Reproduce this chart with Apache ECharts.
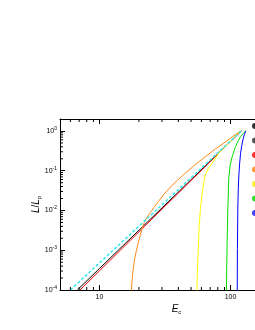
<!DOCTYPE html>
<html><head><meta charset="utf-8">
<script src="https://cdn.jsdelivr.net/npm/echarts@6/dist/echarts.min.js"></script>
<style>html,body{margin:0;padding:0;background:#fff}#c{width:255px;height:330px}</style>
</head><body><div id="c"></div>
<script>
// ---- data ----
const seriesNames = ['Analytic', 'Fit', 'Simulation', 'E0 = 17.5', 'E0 = 55', 'E0 = 93', 'E0 = 113'];
const blackE = [6.78, 10, 21.4, 50, 121];
const blackL = [1e-4, 3.47e-4, 3.94e-3, 0.0593, 1];
const redE = [7.1, 10, 21.4, 50, 121];
const redL = [1e-4, 3.04e-4, 3.6e-3, 0.0566, 1];
const cyanE = [6.0, 10, 21.4, 50, 121];
const cyanL = [1e-4, 4.79e-4, 4.93e-3, 0.0665, 1];
const orangeE = [17.44, 17.53, 17.75, 18.04, 18.55, 19.16, 20.31, 21.54, 22.8, 24.25, 26.0, 28.09, 31.0, 34.56, 39.5, 45.07, 54.0, 64.22, 76.5, 91.5, 105.0, 119.4];
const orangeL = [5.6e-5, 1e-4, 1.8e-4, 3.18e-4, 5.9e-4, 1.01e-3, 2.19e-3, 4.32e-3, 6.3e-3, 8.5e-3, 0.0118, 0.0166, 0.0254, 0.0379, 0.058, 0.0863, 0.143, 0.225, 0.35, 0.528, 0.74, 1];
const yellowE = [55.25, 55.44, 55.8, 56.43, 57.0, 57.74, 59.0, 60.57, 62.3, 64.22, 68.0, 72.31, 81.28, 88.5, 97.0, 107.0, 119.4];
const yellowL = [5.6e-5, 1e-4, 2.4e-4, 6.38e-4, 1.6e-3, 4.32e-3, 0.0112, 0.0245, 0.047, 0.0782, 0.117, 0.154, 0.275, 0.37, 0.491, 0.69, 1];
const greenE = [93.0, 93.16, 93.6, 94.32, 95.5, 97.03, 99.5, 103.1, 109.3, 114.0, 119.4, 125.0, 130.5];
const greenL = [5.6e-5, 1e-4, 3.5e-4, 1.64e-3, 0.0116, 0.0658, 0.14, 0.225, 0.403, 0.55, 0.719, 0.87, 1];
const blueE = [112.4, 112.6, 113.0, 113.8, 114.7, 115.9, 117.5, 119.4, 121.8, 124.3, 127.3, 130.5];
const blueL = [5.6e-5, 1e-4, 1.1e-3, 0.0116, 0.036, 0.0782, 0.155, 0.275, 0.42, 0.594, 0.79, 1];
const xMinorTicks = [6, 7, 8, 9, 20, 30, 40, 50, 60, 70, 80, 90, 200];
const yMinorTicks = [2e-4,3e-4,4e-4,5e-4,6e-4,7e-4,8e-4,9e-4,2e-3,3e-3,4e-3,5e-3,6e-3,7e-3,8e-3,9e-3,
  0.02,0.03,0.04,0.05,0.06,0.07,0.08,0.09,0.2,0.3,0.4,0.5,0.6,0.7,0.8,0.9];
const xMin = 5, xMax = 300, yMin = 1e-4, yMax = 2;

const zip = (a, b) => a.map((v, i) => [v, b[i]]);
const font = 'Liberation Sans, Arial, sans-serif';
const chart = echarts.init(document.getElementById('c'), null, {renderer: 'canvas'});

function lineSeries(name, E, L, color, extra) {
  return Object.assign({
    name, type: 'line', data: zip(E, L), symbol: 'none', smooth: false,
    lineStyle: {color, width: 1}, itemStyle: {color}, clip: true, z: 3
  }, extra || {});
}

const supLabel = v => {
  const e = Math.round(Math.log10(v));
  if (Math.abs(Math.log10(v) - e) > 1e-6) return '';
  return '{b|10}{s|' + e + '}';
};

const option = {
  animation: false,
  grid: {left: 60, top: 119, width: 233, height: 171, show: false, outerBoundsMode: 'none', containLabel: false},
  legend: {
    orient: 'vertical', left: 252, top: 123, width: 100, height: 120, itemWidth: 6, itemHeight: 6, itemGap: 8.5,
    icon: 'circle', padding: 0, textStyle: {fontSize: 6, lineHeight: 6, fontFamily: font, color: '#000'},
    data: [
      {name: seriesNames[0], itemStyle: {color: '#333'}},
      {name: seriesNames[1], itemStyle: {color: '#555'}},
      {name: seriesNames[2], itemStyle: {color: '#ff3030'}},
      {name: seriesNames[3], itemStyle: {color: '#ff9a40'}},
      {name: seriesNames[4], itemStyle: {color: '#f5f030'}},
      {name: seriesNames[5], itemStyle: {color: '#30e030'}},
      {name: seriesNames[6], itemStyle: {color: '#4040ff'}}
    ]
  },
  xAxis: [{
    type: 'log', min: xMin, max: xMax, logBase: 10,
    axisLine: {lineStyle: {color: '#000', width: 1}},
    axisTick: {inside: true, length: 5, lineStyle: {color: '#000'}},
    splitLine: {show: false},
    axisLabel: {fontSize: 7, fontFamily: font, color: '#000', margin: 4, showMinLabel: false, showMaxLabel: false,
      formatter: v => { const e = Math.log10(v); return Math.abs(e - Math.round(e)) < 1e-6 ? String(Math.round(v)) : ''; }},
    name: '{i|E}{sub|c}', nameLocation: 'middle', nameGap: 13, nameMoveOverlap: false,
    nameTextStyle: {rich: {i: {fontSize: 10, fontStyle: 'italic', fontFamily: font, color: '#000'},
      sub: {fontSize: 6, fontFamily: font, color: '#000', padding: [6, 0, 0, 0]}}}
  }, {
    type: 'log', min: xMin, max: xMax, position: 'top',
    axisLine: {lineStyle: {color: '#000', width: 1}},
    axisTick: {inside: true, length: 5, lineStyle: {color: '#000'}},
    axisLabel: {show: false}, splitLine: {show: false}
  }],
  yAxis: [{
    type: 'log', min: yMin, max: yMax, logBase: 10,
    axisLine: {show: true, lineStyle: {color: '#000', width: 1}},
    axisTick: {show: true, inside: true, length: 5, lineStyle: {color: '#000'}},
    splitLine: {show: false},
    axisLabel: {fontFamily: font, color: '#000', margin: 3, formatter: supLabel, showMaxLabel: false,
      rich: {b: {fontSize: 7, fontFamily: font, color: '#000'},
             s: {fontSize: 5, fontFamily: font, color: '#000', padding: [0, 0, 5, 0]}}},
    name: '{i|L}{n|/}{i|L}{sub|p}', nameLocation: 'middle', nameGap: 18, nameRotate: 90, nameMoveOverlap: false,
    nameTextStyle: {rich: {i: {fontSize: 10, fontStyle: 'italic', fontFamily: font, color: '#000'},
      n: {fontSize: 10, fontFamily: font, color: '#000'},
      sub: {fontSize: 6, fontFamily: font, color: '#000', padding: [6, 0, 0, 0]}}}
  }],
  series: [
    lineSeries(seriesNames[0], blackE, blackL, '#000000'),
    lineSeries(seriesNames[2], redE, redL, '#ff0000'),
    lineSeries(seriesNames[1], cyanE, cyanL, '#30e8f0', {lineStyle: {color: '#30e8f0', width: 1.5, type: [3, 2]}, z: 4}),
    lineSeries(seriesNames[3], orangeE, orangeL, '#ff8a1a'),
    lineSeries(seriesNames[4], yellowE, yellowL, '#ffff00'),
    lineSeries(seriesNames[5], greenE, greenL, '#00e000'),
    lineSeries(seriesNames[6], blueE, blueL, '#0000ff'),
    {
      type: 'custom', name: 'xminor', data: xMinorTicks.map(v => [v]), clip: false, silent: true, z: 5,
      renderItem: (params, api) => {
        const v = api.value(0);
        const b = api.coord([v, yMin]), t = api.coord([v, yMax]);
        return {type: 'group', children: [
          {type: 'line', shape: {x1: b[0], y1: b[1], x2: b[0], y2: b[1] - 3}, style: {stroke: '#000', lineWidth: 1}},
          {type: 'line', shape: {x1: t[0], y1: t[1], x2: t[0], y2: t[1] + 3}, style: {stroke: '#000', lineWidth: 1}}
        ]};
      }
    },
    {
      type: 'custom', name: 'yminor', data: yMinorTicks.map(v => [xMin, v]), clip: false, silent: true, z: 5,
      renderItem: (params, api) => {
        const v = api.value(1);
        const l = api.coord([xMin, v]);
        return {type: 'line', shape: {x1: l[0], y1: l[1], x2: l[0] + 3, y2: l[1]}, style: {stroke: '#000', lineWidth: 1}};
      }
    }
  ]
};
chart.setOption(option);
</script></body></html>
